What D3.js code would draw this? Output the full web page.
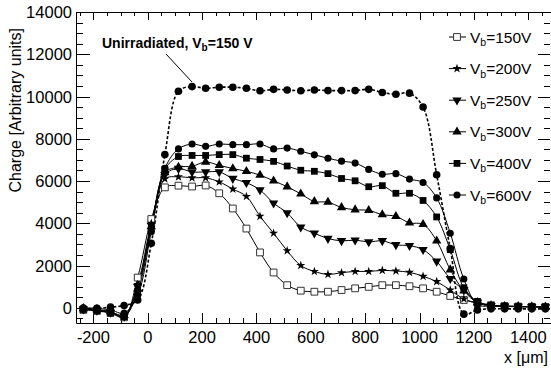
<!DOCTYPE html>
<html>
<head>
<meta charset="utf-8">
<script src="https://cdn.jsdelivr.net/npm/d3@7"></script>
<style>
  body { margin: 0; background: #fff; }
  svg { display: block; font-family: "Liberation Sans", Arial, sans-serif; }
</style>
</head>
<body>
<div id="chart"></div>
<script>
// positions along the strip (um)
const xPos = [-237, -187, -137, -87, -37, 13, 63, 113, 163, 213, 263, 313, 363, 413, 463, 513, 563, 613,
  663, 713, 763, 813, 863, 913, 963, 1013, 1063, 1113, 1163, 1213, 1263, 1313, 1363, 1413, 1463];

const v150 = [-100, -150, -250, -450, 1430, 4200, 5700, 5780, 5740, 5790, 5420, 4700, 3750, 2620, 1670, 1070, 810, 760,
  760, 840, 920, 990, 1070, 1070, 1020, 920, 760, 560, 370, 250, 120, 80, 60, 50, 40];
const v200 = [-50, -100, -200, -380, 1100, 4000, 6100, 6200, 6150, 6150, 5960, 5620, 5270, 4330, 3530, 2700, 2000, 1720,
  1580, 1660, 1720, 1720, 1770, 1740, 1680, 1490, 1240, 840, 420, 200, 100, 70, 60, 50, 40];
const v250 = [-60, -120, -220, -400, 1000, 3900, 6300, 6590, 6430, 6430, 6430, 6120, 5920, 5580, 4950, 4490, 3820, 3530,
  3280, 3170, 3200, 3120, 3170, 2980, 2940, 2750, 2200, 1380, 840, 250, 100, 70, 60, 50, 40];
const v300 = [-30, -80, -180, -350, 900, 3850, 6400, 6660, 6700, 6900, 6740, 6590, 6460, 6280, 6010, 5730, 5390, 5030,
  5000, 4750, 4640, 4610, 4410, 4330, 4020, 3950, 3170, 1800, 800, 250, 100, 70, 60, 50, 40];
const v400 = [-80, -130, -230, -420, 750, 3750, 6550, 7160, 7210, 7210, 7250, 7250, 7080, 7020, 6930, 6710, 6510, 6460,
  6350, 6120, 6010, 5730, 5780, 5420, 5420, 5080, 4300, 2750, 950, 300, 120, 80, 60, 50, 40];
const v600 = [0, -30, -100, -250, 600, 3600, 6600, 7520, 7750, 7640, 7750, 7720, 7720, 7750, 7520, 7560, 7410, 7240,
  7080, 6940, 6850, 6550, 6320, 6350, 6090, 5930, 5200, 3530, 1360, 150, 80, 60, 50, 40, 30];
const vUnirr = [-30, -30, 30, 110, 370, 3050, 7250, 10250, 10470, 10390, 10440, 10440, 10390, 10270, 10340, 10310, 10270, 10310,
  10280, 10280, 10280, 10340, 10190, 10110, 10160, 9500, 6300, 2800, -300, -100, -50, -50, -50, -50, -50];

const legendLabels = ["150V", "200V", "250V", "300V", "400V", "600V"];
const xTicks = [-200, 0, 200, 400, 600, 800, 1000, 1200, 1400];
const yTicks = [0, 2000, 4000, 6000, 8000, 10000, 12000, 14000];

const width = 551, height = 372;
const svg = d3.select("#chart").append("svg")
  .attr("width", width)
  .attr("height", height);

const x = d3.scaleLinear().domain([-264, 1480]).range([76, 550]);
const y = d3.scaleLinear().domain([-720, 14000]).range([323, 12]);

// ticks, ROOT style (inside the frame, on all four sides)
const ax = svg.append("g").attr("stroke", "#000").attr("stroke-width", 1);
const xMinor = d3.range(-250, 1480, 50);
const yMinor = d3.range(-500, 14001, 500);
xMinor.forEach(v => {
  const major = v % 200 === 0;
  const px = Math.round(x(v)) + 0.5;
  ax.append("line").attr("x1", px).attr("x2", px).attr("y1", 323).attr("y2", 323 - (major ? 10 : 5));
  ax.append("line").attr("x1", px).attr("x2", px).attr("y1", 12).attr("y2", 12 + (major ? 8 : 4));
});
yMinor.forEach(v => {
  const major = v % 2000 === 0;
  const py = Math.round(y(v)) + 0.5;
  ax.append("line").attr("x1", 76).attr("x2", 76 + (major ? 14 : 7)).attr("y1", py).attr("y2", py);
  ax.append("line").attr("x1", 550).attr("x2", 550 - (major ? 12 : 6)).attr("y1", py).attr("y2", py);
});
// frame: left, bottom and top lines only (right edge is cut off)
ax.append("path").attr("d", "M551,12.5H76.5V323.5H551").attr("fill", "none");

svg.append("g").selectAll("text").data(xTicks).enter().append("text")
  .attr("x", d => x(d)).attr("y", 343)
  .attr("text-anchor", "middle").attr("font-size", 16.5)
  .text(d => d);
svg.append("g").selectAll("text").data(yTicks).enter().append("text")
  .attr("x", 72).attr("y", d => y(d) + 6)
  .attr("text-anchor", "end").attr("font-size", 16.5)
  .text(d => d);

svg.append("text").attr("x", 548).attr("y", 363).attr("text-anchor", "end")
  .attr("font-size", 16).text("x [\u03bcm]");
svg.append("text").attr("transform", "translate(21,28) rotate(-90)")
  .attr("text-anchor", "end").attr("font-size", 16).text("Charge [Arbitrary units]");

// series
const line = d3.line().x(d => x(d[0])).y(d => y(d[1])).curve(d3.curveCatmullRom.alpha(0.5));
const sym = (type, size) => d3.symbol().type(type).size(size)();
const series = [
  { vals: v150, shape: sym(d3.symbolSquare, 46), fill: "#fff", stroke: "#333", rot: 0 },
  { vals: v200, shape: sym(d3.symbolStar, 26), fill: "#000", stroke: "none", rot: 0 },
  { vals: v250, shape: sym(d3.symbolTriangle, 38), fill: "#000", stroke: "none", rot: 180 },
  { vals: v300, shape: sym(d3.symbolTriangle, 38), fill: "#000", stroke: "none", rot: 0 },
  { vals: v400, shape: sym(d3.symbolSquare, 46), fill: "#000", stroke: "none", rot: 0 },
  { vals: v600, shape: sym(d3.symbolCircle, 40), fill: "#000", stroke: "none", rot: 0 }
];

const plot = svg.append("g");
const unirr = xPos.map((d, i) => [d, vUnirr[i]]);
plot.append("path").attr("d", line(unirr)).attr("fill", "none")
  .attr("stroke", "#000").attr("stroke-width", 1.6).attr("stroke-dasharray", "3,2");
plot.selectAll("circle.u").data(unirr).enter().append("circle").attr("class", "u")
  .attr("cx", d => x(d[0])).attr("cy", d => y(d[1])).attr("r", 3.8).attr("fill", "#000");

series.forEach(s => {
  const pts = xPos.map((d, i) => [d, s.vals[i]]);
  plot.append("path").attr("d", line(pts)).attr("fill", "none")
    .attr("stroke", "#000").attr("stroke-width", 1);
});
series.forEach(s => {
  const pts = xPos.map((d, i) => [d, s.vals[i]]);
  plot.append("g").selectAll("path").data(pts).enter().append("path")
    .attr("d", s.shape)
    .attr("transform", d => `translate(${x(d[0])},${y(d[1])}) rotate(${s.rot})`)
    .attr("fill", s.fill).attr("stroke", s.stroke).attr("stroke-width", 1);
});

// legend
const leg = svg.append("g");
series.forEach((s, i) => {
  const cy = 37 + i * 31.6;
  leg.append("line").attr("x1", 449).attr("x2", 466).attr("y1", cy).attr("y2", cy)
    .attr("stroke", "#000").attr("stroke-width", 1);
  leg.append("path").attr("d", s.shape)
    .attr("transform", `translate(457,${cy}) rotate(${s.rot})`)
    .attr("fill", s.fill).attr("stroke", s.stroke);
  const t = leg.append("text").attr("x", 470).attr("y", cy + 5.5).attr("font-size", 15.5);
  t.append("tspan").text("V");
  t.append("tspan").attr("font-size", 10.5).attr("dy", 3.5).text("b");
  t.append("tspan").attr("dy", -3.5).text("=" + legendLabels[i]);
});

// annotation
svg.append("line").attr("x1", 166).attr("y1", 54).attr("x2", 192).attr("y2", 82)
  .attr("stroke", "#000").attr("stroke-width", 1);
const ann = svg.append("text").attr("x", 102).attr("y", 48)
  .attr("font-size", 14).attr("font-weight", "bold");
ann.append("tspan").text("Unirradiated, V");
ann.append("tspan").attr("font-size", 10).attr("dy", 3).text("b");
ann.append("tspan").attr("dy", -3).text("=150 V");
</script>
</body>
</html>
